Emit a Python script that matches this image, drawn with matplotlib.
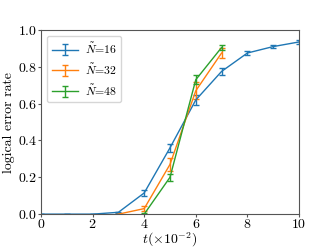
import matplotlib
matplotlib.use("Agg")
import matplotlib.pyplot as plt

plt.rcParams["font.family"] = "cmr10"
plt.rcParams["mathtext.fontset"] = "cm"
plt.rcParams["axes.formatter.use_mathtext"] = True
plt.rcParams["font.size"] = 10

# data
t_16 = [0, 1, 2, 3, 4, 5, 6, 7, 8, 9, 10]
p_16 = [0.0, 0.0, 0.0, 0.01, 0.115, 0.36, 0.62, 0.775, 0.875, 0.91, 0.935]
e_16 = [0.0, 0.0, 0.0, 0.004, 0.015, 0.02, 0.025, 0.02, 0.012, 0.01, 0.01]

t_32 = [3, 4, 5, 6, 7]
p_32 = [0.0, 0.03, 0.27, 0.67, 0.875]
e_32 = [0.0, 0.015, 0.035, 0.045, 0.025]

t_48 = [4, 5, 6, 7]
p_48 = [0.0, 0.20, 0.73, 0.905]
e_48 = [0.005, 0.02, 0.025, 0.015]

labels = [r"$\tilde{N}$=16", r"$\tilde{N}$=32", r"$\tilde{N}$=48"]
colors = ["#1f77b4", "#ff7f0e", "#2ca02c"]

fig = plt.figure(figsize=(3.32, 2.49), dpi=100)
ax = fig.add_axes([0.1235, 0.14, 0.777, 0.7395])

series = [(t_16, p_16, e_16), (t_32, p_32, e_32), (t_48, p_48, e_48)]
for (t, p, e), lab, c in zip(series, labels, colors):
    ax.errorbar(t, p, yerr=e, color=c, lw=1.0, capsize=2.0, elinewidth=1.0, label=lab)

ax.set_xlim(0, 10)
ax.set_ylim(0, 1.0)
ax.set_xticks([0, 2, 4, 6, 8, 10])
ax.set_yticks([0.0, 0.2, 0.4, 0.6, 0.8, 1.0])
ax.set_xlabel(r"$t(\times10^{-2})$", labelpad=-0.8)
ax.set_ylabel("logical error rate", labelpad=2)
for s in ax.spines.values():
    s.set_color("#555555")
    s.set_linewidth(0.8)
ax.tick_params(colors="#555555", labelcolor="black", length=2.2, width=0.8)
ax.tick_params(axis="y", pad=0.5)
ax.tick_params(axis="x", pad=0.8)
ax.legend(loc="upper left", fontsize=8.5, handlelength=2.2, handletextpad=0.6)

fig.savefig("out.png", dpi=100)
